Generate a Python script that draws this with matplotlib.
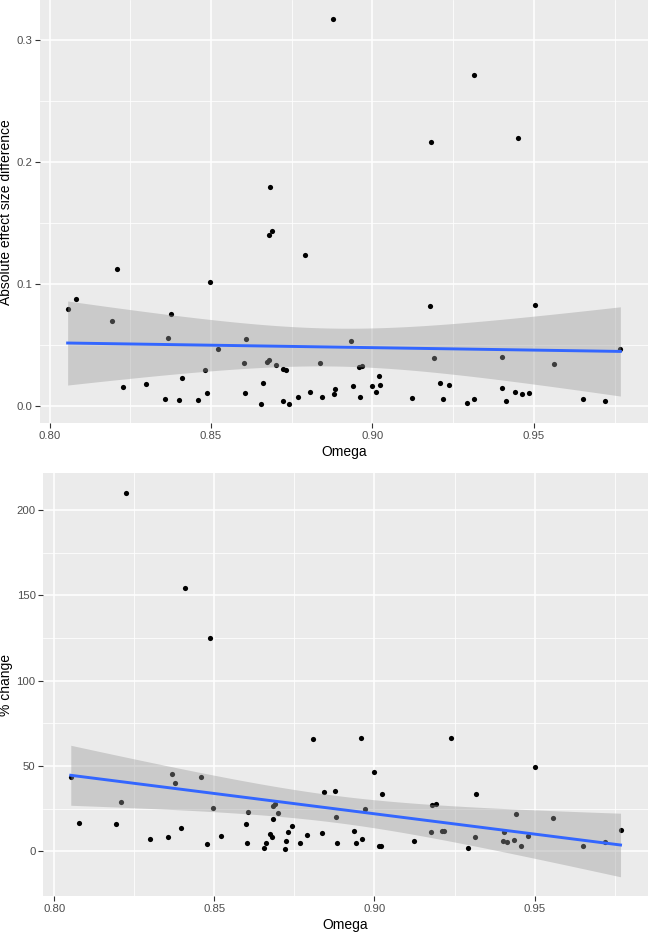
import numpy as np
import matplotlib
matplotlib.use("Agg")
import matplotlib.pyplot as plt

plt.rcParams['font.family'] = ['Liberation Sans', 'DejaVu Sans']

# ---- Data: top panel (Omega vs absolute effect size difference)
omega_top = [0.8683, 0.8689, 0.8681, 0.8877, 0.9315, 0.9180, 0.9450,
             0.8790, 0.8210, 0.8497, 0.8083, 0.8056, 0.8376, 0.8193, 0.8368,
             0.8607, 0.8521, 0.8837, 0.8601, 0.8675, 0.8681, 0.8701, 0.8724,
             0.8732, 0.8481, 0.8411, 0.8662, 0.8299, 0.8227, 0.8489, 0.8604,
             0.8808, 0.8843, 0.8769, 0.8357, 0.8400, 0.8461, 0.8723, 0.8655,
             0.8742,
             0.9178, 0.9505, 0.8935, 0.9192, 0.9402, 0.9768, 0.9563, 0.8958,
             0.8968, 0.9019, 0.8941, 0.9000, 0.9022, 0.9012, 0.9210, 0.9237,
             0.8884, 0.8881, 0.8961, 0.9123, 0.9218, 0.9292, 0.9314, 0.9401,
             0.9413, 0.9442, 0.9464, 0.9486, 0.9651, 0.9719]
abs_diff = [0.1796, 0.1434, 0.1401, 0.3172, 0.2715, 0.2165, 0.2195,
            0.1234, 0.1122, 0.1013, 0.0876, 0.0794, 0.0753, 0.0692, 0.0558,
            0.0550, 0.0465, 0.0353, 0.0350, 0.0359, 0.0372, 0.0334, 0.0304,
            0.0296, 0.0296, 0.0227, 0.0183, 0.0178, 0.0150, 0.0107, 0.0107,
            0.0115, 0.0074, 0.0074, 0.0052, 0.0049, 0.0044, 0.0041, 0.0016,
            0.0014,
            0.0821, 0.0829, 0.0531, 0.0388, 0.0400, 0.0465, 0.0339, 0.0315,
            0.0323, 0.0244, 0.0161, 0.0161, 0.0167, 0.0112, 0.0189, 0.0167,
            0.0140, 0.0096, 0.0068, 0.0066, 0.0055, 0.0019, 0.0055, 0.0142,
            0.0039, 0.0109, 0.0093, 0.0104, 0.0055, 0.0039]

# ---- Data: bottom panel (Omega vs % change)
omega_bot = [0.8225, 0.8410, 0.8488,
             0.8052, 0.8079, 0.8192, 0.8209, 0.8299, 0.8357, 0.8368, 0.8376,
             0.8397, 0.8460, 0.8478, 0.8496, 0.8520, 0.8599, 0.8603, 0.8606,
             0.8655, 0.8661, 0.8675, 0.8680, 0.8682, 0.8683, 0.8688, 0.8700,
             0.8723, 0.8722, 0.8731, 0.8742, 0.8767, 0.8789, 0.8807, 0.8837,
             0.8842,
             0.8876, 0.8879, 0.8882, 0.8935, 0.8942, 0.8957, 0.8962, 0.8969,
             0.9000, 0.9014, 0.9019, 0.9022, 0.9124, 0.9177, 0.9180, 0.9191,
             0.9211, 0.9218, 0.9238, 0.9293, 0.9313, 0.9316, 0.9403, 0.9402,
             0.9413, 0.9436, 0.9443, 0.9457, 0.9479, 0.9500, 0.9557, 0.9651,
             0.9720, 0.9768]
pct_change = [210.4, 154.2, 125.1,
              43.7, 16.6, 15.8, 29.0, 7.0, 8.5, 45.4, 40.2,
              13.5, 43.5, 4.1, 25.4, 8.8, 16.2, 4.7, 23.2,
              1.8, 4.5, 10.3, 8.4, 19.1, 26.5, 27.5, 22.6,
              6.2, 1.3, 11.3, 14.6, 4.7, 9.5, 65.9, 10.5,
              34.5,
              35.1, 20.3, 5.0, 11.7, 4.7, 66.2, 7.0, 24.9,
              46.6, 3.1, 3.3, 33.5, 5.9, 11.1, 27.3, 27.9,
              11.9, 12.1, 66.5, 1.8, 8.5, 33.4, 11.3, 6.2,
              5.3, 6.8, 21.7, 2.9, 8.8, 49.2, 19.5, 2.9,
              5.3, 12.6]

x_label = "Omega"
y_label_top = "Absolute effect size difference"
y_label_bot = "% change"
x_ticks = [0.80, 0.85, 0.90, 0.95]
x_ticklabels = ["0.80", "0.85", "0.90", "0.95"]
y_ticks_top = [0.0, 0.1, 0.2, 0.3]
y_ticklabels_top = ["0.0", "0.1", "0.2", "0.3"]
y_ticks_bot = [0, 50, 100, 150, 200]
y_ticklabels_bot = ["0", "50", "100", "150", "200"]


def lm_band(x, y, n_grid=80, tq=1.9955):
    x = np.asarray(x); y = np.asarray(y)
    n = len(x)
    b1, b0 = np.polyfit(x, y, 1)
    resid = y - (b0 + b1 * x)
    s = np.sqrt(np.sum(resid ** 2) / (n - 2))
    xbar = x.mean()
    sxx = np.sum((x - xbar) ** 2)
    xg = np.linspace(x.min(), x.max(), n_grid)
    yg = b0 + b1 * xg
    se = s * np.sqrt(1.0 / n + (xg - xbar) ** 2 / sxx)
    return xg, yg, yg - tq * se, yg + tq * se


def style_ax(ax):
    ax.set_facecolor('#EBEBEB')
    for sp in ax.spines.values():
        sp.set_visible(False)
    ax.grid(True, which='major', color='white', linewidth=1.1)
    ax.grid(True, which='minor', color='white', linewidth=0.55)
    ax.set_axisbelow(True)
    ax.tick_params(which='major', length=3.5, width=0.8, color='#333333',
                   labelcolor='#4D4D4D', labelsize=8.2, pad=2)
    ax.tick_params(which='minor', length=0)


def panel(ax, x, y, yticks, yticklabels, ylabel, left_px, width_px):
    style_ax(ax)
    ax.scatter(x, y, s=14, color='black', linewidths=0, zorder=2)
    xg, yg, lo, hi = lm_band(x, y)
    ax.fill_between(xg, lo, hi, color='#999999', alpha=0.4, linewidth=0, zorder=3)
    ax.plot(xg, yg, color='#3366FF', linewidth=2.1, zorder=4)
    xmin, xmax = min(x), max(x)
    dx = (xmax - xmin) * 0.05
    ax.set_xlim(xmin - dx, xmax + dx)
    ymin = min(min(y), lo.min()); ymax = max(max(y), hi.max())
    dy = (ymax - ymin) * 0.05
    ax.set_ylim(ymin - dy, ymax + dy)
    ax.set_xticks(x_ticks)
    ax.set_xticklabels(x_ticklabels)
    ax.set_xticks([0.825, 0.875, 0.925, 0.975], minor=True)
    ax.set_yticks(yticks)
    ax.set_yticklabels(yticklabels)
    minors = [(a + b) / 2 for a, b in zip(yticks[:-1], yticks[1:])]
    ax.set_yticks(minors, minor=True)
    ax.set_xlabel(x_label, fontsize=10, color='black', labelpad=3)
    ax.set_ylabel(ylabel, fontsize=10, color='black')
    ax.yaxis.set_label_coords((13.0 - left_px) / width_px, 0.5)


fig = plt.figure(figsize=(6.49, 9.34), dpi=100)
W, H = 649, 934
ax1 = fig.add_axes([40 / W, 1 - 423.3 / H, (648 - 40) / W, 423.3 / H])
ax2 = fig.add_axes([43.3 / W, 1 - 896 / H, (648 - 43.3) / W, (896 - 473.3) / H])

panel(ax1, omega_top, abs_diff, y_ticks_top, y_ticklabels_top, y_label_top, 40, 608)
panel(ax2, omega_bot, pct_change, y_ticks_bot, y_ticklabels_bot, y_label_bot, 43.3, 604.7)

fig.savefig("out.png", dpi=100, facecolor='white')
